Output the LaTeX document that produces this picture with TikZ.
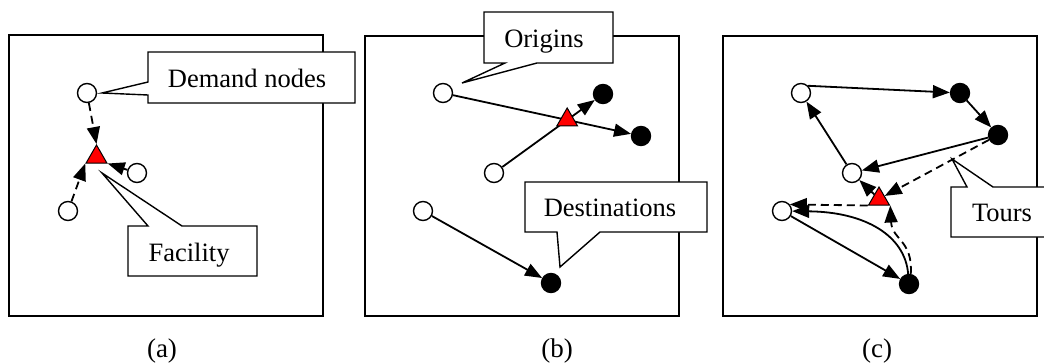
\documentclass[tikz,border=0pt]{standalone}
\usepackage{fontspec}
\setmainfont{Liberation Serif}
\usetikzlibrary{arrows.meta,shapes.geometric}
\begin{document}
\begin{tikzpicture}[x=1pt,y=-1pt,
  panel/.style={draw,line width=1.5pt},
  open/.style={circle,draw,fill=white,line width=1.4pt,minimum size=19pt,inner sep=0pt},
  full/.style={circle,draw,fill=black,line width=1.4pt,minimum size=19pt,inner sep=0pt},
  facility/.style={regular polygon,regular polygon sides=3,draw,fill=red,line width=1pt,minimum size=24pt,inner sep=0pt},
  link/.style={line width=1.8pt,-{Triangle[length=17pt,width=13pt]}},
  trip/.style={link,dash pattern=on 8pt off 5pt},
  callout/.style={draw,fill=white,line width=1.4pt,line join=miter},
  tag/.style={font=\fontsize{26.5}{30}\selectfont,anchor=base,inner sep=0pt},
  capt/.style={font=\fontsize{27}{30}\selectfont,anchor=base,inner sep=0pt}]
\useasboundingbox (0,0) rectangle (1044,362);

% ---------- panel frames ----------
\draw[panel] (9,35) rectangle (323,316);
\draw[panel] (365,36) rectangle (679,316);
\draw[panel] (723,36) rectangle (1037,316);

% ---------- (a) single facility ----------
\node[open] (a1) at (87,93) {};
\node[open] (a2) at (137,173) {};
\node[open] (a3) at (68,211) {};
\node[facility] (fa) at (96.5,157) {};
\draw[trip] (a1) -- (fa.corner 1);
\draw[trip] (a2) -- (fa.corner 3);
\draw[trip] (a3) -- (fa.corner 2);

% ---------- (b) origin-destination flows ----------
\node[open] (o1) at (443,93) {};
\node[open] (o2) at (494,173) {};
\node[open] (o3) at (423,211) {};
\node[full] (d1) at (603,94) {};
\node[full] (d2) at (641,136) {};
\node[full] (d3) at (551,283) {};
\draw[link] (o1) -- (d2);
\draw[link] (o2) -- (d1);
\draw[link] (o3) -- (d3);
\node[facility] (fb) at (intersection of o1--d2 and o2--d1) {};

% ---------- (c) tours ----------
\node[open] (c1) at (801,93) {};
\node[full] (c2) at (960,93) {};
\node[full] (c3) at (998,135) {};
\node[open] (c4) at (852,173) {};
\node[open] (c5) at (782,211) {};
\node[full] (c6) at (909,284) {};
\node[facility] (fc) at (879,199) {};
\draw[link] (c1.45) -- (c2);
\draw[link] (c2) -- (c3);
\draw[link] (c3) -- (c4);
\draw[link] (c4) -- (c1);
\draw[link] (c5) -- (c6);
\draw[link] (c6) .. controls (905,236) and (866,212) .. (c5);
\draw[trip] (fc) -- (c4);
\draw[trip] (c3) -- (fc);
\draw[trip] (fc.corner 2) -- (c5.40);
\draw[trip] (c6.80) .. controls (913,240) and (892,240) .. (fc.corner 3);

% ---------- callouts ----------
\draw[callout] (148,52) -- (355,52) -- (355,103) -- (148,103) -- (148,95)
  -- (102,93) -- (148,82) -- cycle;
\node[tag] (tdem) at (247,87) {Demand nodes};

\draw[callout] (128,226) -- (148,226) -- (102,173) -- (182,226) -- (257,226)
  -- (257,276) -- (128,276) -- cycle;
\node[tag] (tfac) at (189,261) {Facility};

\draw[callout] (484,12) -- (613,12) -- (613,63) -- (537,63) -- (462,83)
  -- (505,63) -- (484,63) -- cycle;
\node[tag] (tori) at (544,47) {Origins};

\draw[callout] (525,182) -- (707,182) -- (707,232) -- (600,232) -- (560,267)
  -- (557,232) -- (525,232) -- cycle;
\node[tag] (tdes) at (610,216) {Destinations};

\draw[callout] (951,187) -- (967,187) -- (952,159) -- (993,187) -- (1060,187)
  -- (1060,237) -- (951,237) -- cycle;
\node[tag] (ttou) at (1002,221) {Tours};

% ---------- captions ----------
\node[capt] (capa) at (162,357) {(a)};
\node[capt] (capb) at (557,357) {(b)};
\node[capt] (capc) at (877,357) {(c)};
\end{tikzpicture}
\end{document}
